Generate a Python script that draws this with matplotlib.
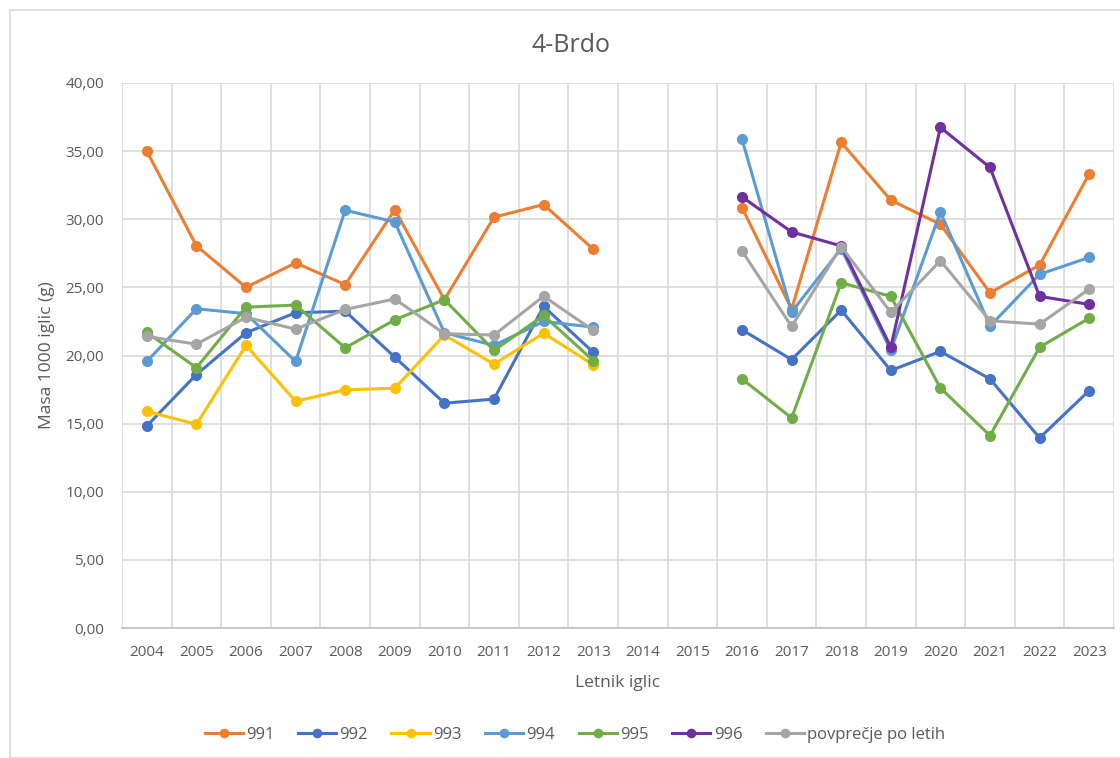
import numpy as np
import matplotlib
matplotlib.use("Agg")
import matplotlib.pyplot as plt
from matplotlib.patches import Rectangle

plt.rcParams['font.family'] = ['Open Sans', 'DejaVu Sans']

years = ["2004", "2005", "2006", "2007", "2008", "2009", "2010", "2011", "2012", "2013",
         "2014", "2015", "2016", "2017", "2018", "2019", "2020", "2021", "2022", "2023"]
nan = np.nan
s991 = [35.0, 28.05, 25.0, 26.8, 25.2, 30.7, 24.1, 30.15, 31.08, 27.8,
        nan, nan, 30.86, 23.4, 35.64, 31.4, 29.63, 24.6, 26.64, 33.33]
s992 = [14.83, 18.6, 21.67, 23.14, 23.25, 19.88, 16.5, 16.8, 23.6, 20.24,
        nan, nan, 21.89, 19.7, 23.33, 18.9, 20.3, 18.28, 13.95, 17.43]
s993 = [15.9, 14.95, 20.74, 16.64, 17.48, 17.6, 21.5, 19.36, 21.64, 19.32,
        nan, nan, nan, nan, nan, nan, nan, nan, nan, nan]
s994 = [19.56, 23.43, 23.07, 19.56, 30.66, 29.8, 21.67, 20.74, 22.5, 22.08,
        nan, nan, 35.88, 23.19, 27.84, 20.37, 30.54, 22.16, 25.96, 27.2]
s995 = [21.7, 19.1, 23.55, 23.7, 20.56, 22.62, 24.1, 20.37, 22.94, 19.63,
        nan, nan, 18.28, 15.42, 25.34, 24.34, 17.62, 14.12, 20.61, 22.74]
s996 = [nan, nan, nan, nan, nan, nan, nan, nan, nan, nan,
        nan, nan, 31.64, 29.07, 28.04, 20.61, 36.74, 33.8, 24.34, 23.75]
avg = [21.4, 20.83, 22.8, 21.94, 23.38, 24.15, 21.6, 21.5, 24.35, 21.85,
       nan, nan, 27.67, 22.13, 28.0, 23.16, 26.96, 22.55, 22.3, 24.88]

series = [("991", s991, "#ED7D31"), ("992", s992, "#4472C4"), ("993", s993, "#FFC000"),
          ("994", s994, "#5B9BD5"), ("995", s995, "#70AD47"), ("996", s996, "#7030A0"),
          ("povprečje po letih", avg, "#A5A5A5")]

W, H = 1120, 758
fig = plt.figure(figsize=(W / 100, H / 100), dpi=100)
fig.patches.append(Rectangle((10 / W, 0), 1.2, (H - 10) / H, transform=fig.transFigure,
                             fill=False, edgecolor="#D9D9D9", linewidth=1.2))

ax = fig.add_axes([122 / W, 1 - 628 / H, (1114 - 122) / W, (628 - 83) / H])
x = np.arange(len(years))
for name, vals, col in series:
    ax.plot(x, vals, color=col, lw=2.2, marker="o", markersize=7, label=name, zorder=3)

txt = "#595959"
grid = "#D9D9D9"
ax.set_xlim(-0.5, len(years) - 0.5)
ax.set_ylim(0, 40)
ax.set_xticks(x)
ax.set_xticklabels(years)
ax.set_xticks(np.arange(-0.5, len(years), 1.0), minor=True)
ax.set_yticks(np.arange(0, 41, 5))
ax.set_yticklabels([f"{v:.2f}".replace(".", ",") for v in np.arange(0, 41, 5)])
ax.grid(True, which="minor", axis="x", color=grid, lw=1.2)
ax.grid(True, which="major", axis="y", color=grid, lw=1.2)
ax.tick_params(axis="both", which="both", length=0, colors=txt, labelsize=11)
ax.tick_params(axis="x", pad=12)
ax.tick_params(axis="y", pad=13)
for s in ["top", "right", "left"]:
    ax.spines[s].set_visible(False)
ax.spines["bottom"].set_color("#BFBFBF")
ax.spines["bottom"].set_linewidth(1.2)
ax.set_axisbelow(True)

fig.text(571 / W, 1 - 45 / H, "4-Brdo", ha="center", va="center", fontsize=18, color=txt)
fig.text(618 / W, 1 - 683 / H, "Letnik iglic", ha="center", va="center", fontsize=12.5, color=txt)
fig.text(47 / W, 1 - 355 / H, "Masa 1000 iglic (g)", ha="center", va="center", rotation=90,
         fontsize=12.5, color=txt)

leg = fig.legend(loc="center", bbox_to_anchor=(575 / W, 1 - 735 / H), ncol=7, frameon=False,
                 fontsize=12, labelcolor=txt, handlelength=2.3, handletextpad=0.2,
                 columnspacing=1.4, markerscale=0.85)

fig.savefig("out.png", dpi=100)
